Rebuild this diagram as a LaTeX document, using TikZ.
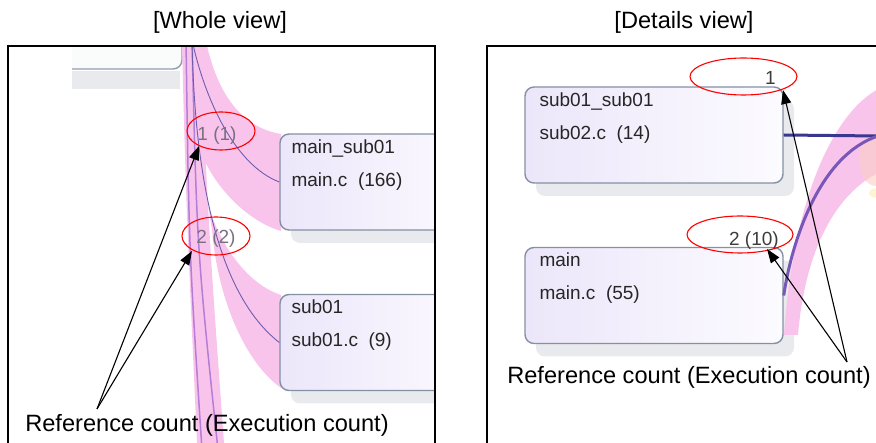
\documentclass[tikz,border=0pt]{standalone}
\usepackage{fontspec}
\setmainfont{Liberation Sans}
\usetikzlibrary{positioning,arrows.meta,shadows}
\definecolor{bandpink}{RGB}{249,196,236}
\definecolor{fanpurple}{RGB}{180,125,214}
\definecolor{callblue}{RGB}{108,94,172}
\definecolor{navyline}{RGB}{58,56,142}
\definecolor{arcpurple}{RGB}{120,88,182}
\definecolor{boxedge}{RGB}{132,145,163}
\definecolor{boxlav}{RGB}{236,230,250}
\definecolor{boxwhite}{RGB}{252,251,255}
\definecolor{shadowgray}{RGB}{232,234,237}
\definecolor{countgray}{RGB}{122,112,130}
\definecolor{countdark}{RGB}{60,60,60}
\definecolor{peach}{RGB}{252,206,196}
\definecolor{paleyellow}{RGB}{255,240,190}
\begin{document}
\begin{tikzpicture}[x=1pt,y=-1pt,
  frame/.style={line width=1.5pt},
  fnbox/.style={draw=boxedge,line width=1.4pt,rounded corners=9pt,
    left color=boxlav,right color=boxwhite,minimum height=96pt,inner sep=0pt,
    drop shadow={shadow xshift=11pt,shadow yshift=-13pt,fill=shadowgray,opacity=1}},
  fntext/.style={inner sep=0pt,align=left,font=\fontsize{19}{33}\selectfont,text=black!85},
  count/.style={inner sep=0pt,font=\fontsize{19}{22}\selectfont},
  ring/.style={draw=red,line width=1.1pt},
  pointer/.style={line width=1.1pt,-{Triangle[length=14pt,width=10pt]}},
  caption/.style={inner sep=0pt,font=\fontsize{23.6}{28}\selectfont}]
 \useasboundingbox (0,0) rectangle (876,443);
 % titles
 \node[caption] (ttlwhole) at (220,22) {[Whole view]};
 \node[caption] (ttldetail) at (684,22) {[Details view]};

 % whole view
 \begin{scope}
  \clip (72,47) rectangle (434,443);
  \coordinate (srcL) at (192,40);
  \coordinate (fanA) at (202,450); \coordinate (fanB) at (218,450);
  \fill[shadowgray] (72,71) rectangle (180,89);
  \draw[draw=boxedge!90,fill=white!96!boxedge,line width=1.4pt,rounded corners=9pt]
    (40,-10) rectangle (182,69);
  \fill[bandpink] (182,46) .. controls (186,200) .. (197,443) -- (224,443)
    .. controls (210,250) .. (200,46) -- cycle;
  \fill[bandpink] (190,46) -- (207,46) .. controls (220,100) and (245,128) .. (281,134)
    -- (281,231) .. controls (250,222) and (215,190) .. (200,150) -- cycle;
  \fill[bandpink] (208,205) .. controls (222,250) and (250,285) .. (281,295)
    -- (281,388) .. controls (245,362) and (218,300) .. (212,230) -- cycle;
  \node[fnbox,minimum width=200pt] (mainsub) at (380,182) {};
  \node[fnbox,minimum width=200pt] (subone) at (380,342.5) {};
  \node[fntext,below right=6pt and 12pt of mainsub.north west] (mainsubtxt)
    {main\_sub01\\main.c\ \ (166)};
  \node[fntext,below right=6pt and 12pt of subone.north west] (subonetxt)
    {sub01\\sub01.c\ \ (9)};
  \draw[fanpurple,line width=1.5pt] (186,40) .. controls (189,250) .. (fanA);
  \draw[fanpurple,line width=1.5pt] (srcL) .. controls (197,250) .. (fanB);
  \draw[callblue,line width=0.9pt] (srcL) .. controls (205,100) and (235,165) .. (mainsub.west);
  \draw[callblue,line width=0.9pt] (srcL) .. controls (195,200) and (225,300) .. (subone.west);
  \node[count,text=countgray] (cntone) at (217,136) {1 (1)};
  \node[count,text=countgray] (cnttwo) at (216,239) {2 (2)};
 \end{scope}
 \draw[ring] (221,131) ellipse [x radius=34, y radius=19];
 \draw[ring] (216,236) ellipse [x radius=34, y radius=19];
 \node[caption] (refL) at (207,425) {Reference count (Execution count)};
 \coordinate (fromL) at (97,409);
 \coordinate (tipLa) at (199,146);
 \coordinate (tipLb) at (192,251);
 \draw[pointer] (fromL) -- (tipLa);
 \draw[pointer] (fromL) -- (tipLb);
 \draw[frame] (8,443) -- (8,46) -- (435,46) -- (435,443);

 % details view
 \begin{scope}
  \clip (488,47) rectangle (876,443);
  \coordinate (callee) at (878,136);
  \node[fnbox,minimum width=258pt] (subsub) at (654,135) {};
  \node[fnbox,minimum width=258pt] (mainfn) at (654,295.5) {};
  \node[fntext,below right=6pt and 15pt of subsub.north west] (subsubtxt)
    {sub01\_sub01\\sub02.c\ \ (14)};
  \node[fntext,below right=6pt and 15pt of mainfn.north west] (mainfntxt)
    {main\\main.c\ \ (55)};
  \fill[bandpink] (784,335) .. controls (793,200) and (833,112) .. (880,88) -- (880,172)
    .. controls (842,190) and (806,240) .. (798,335) -- cycle;
  \fill[peach,opacity=0.6] (876,160) ellipse [x radius=17, y radius=26];
  \fill[paleyellow,opacity=0.7] (878,193) ellipse [x radius=9, y radius=5];
  \draw[navyline,line width=3pt] (subsub.east) -- (callee);
  \draw[arcpurple,line width=3pt] (mainfn.east) .. controls (792,240) and (820,155) .. (callee);
  \node[count,text=countdark,anchor=east] (cntrone) at (776,78) {1};
  \node[count,text=countdark,anchor=east] (cntrtwo) at (779,241) {2 (10)};
 \end{scope}
 \draw[ring] (743.5,76.5) ellipse [x radius=53.5, y radius=18.5];
 \draw[ring] (740,234.5) ellipse [x radius=53, y radius=18.5];
 \node[caption] (refR) at (689,377) {Reference count (Execution count)};
 \coordinate (fromR) at (847,362);
 \coordinate (tipRa) at (783,90);
 \coordinate (tipRb) at (767,249);
 \draw[pointer] (fromR) -- (tipRa);
 \draw[pointer] (fromR) -- (tipRb);
 \draw[frame] (487,443) -- (487,46) -- (876,46);
\end{tikzpicture}
\end{document}
